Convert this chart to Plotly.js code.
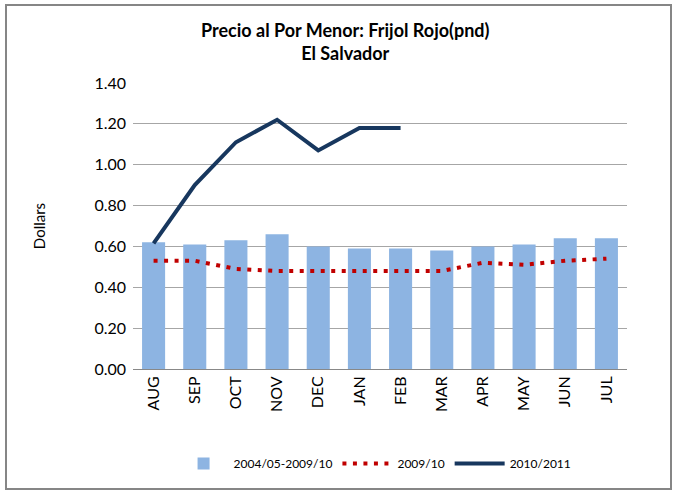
<!DOCTYPE html>
<html>
<head>
<meta charset="utf-8">
<script src="https://cdn.plot.ly/plotly-3.0.1.min.js"></script>
<style>
  body { margin: 0; background: #fff; }
  #wrap { position: relative; width: 673px; height: 490px; }
  #frame { position: absolute; left: 5px; top: 4px; width: 663px; height: 482px;
           border: 2px solid #868686; pointer-events: none; }
</style>
</head>
<body>
<div id="wrap">
  <div id="chart" style="width:673px;height:490px;"></div>
  <div id="frame"></div>
</div>
<script>
// Months of the marketing year
const months = ['AUG', 'SEP', 'OCT', 'NOV', 'DEC', 'JAN', 'FEB', 'MAR', 'APR', 'MAY', 'JUN', 'JUL'];

// Average 2004/05-2009/10
const avgPrices = [0.62, 0.61, 0.63, 0.66, 0.60, 0.59, 0.59, 0.58, 0.60, 0.61, 0.64, 0.64];

// 2009/10 season
const prices0910 = [0.53, 0.53, 0.49, 0.48, 0.48, 0.48, 0.48, 0.48, 0.52, 0.51, 0.53, 0.54];

// 2010/2011 season (through February)
const months1011 = ['AUG', 'SEP', 'OCT', 'NOV', 'DEC', 'JAN', 'FEB'];
const prices1011 = [0.615, 0.90, 1.11, 1.22, 1.07, 1.18, 1.18];

const font = 'Lato, "Liberation Sans", Arial, sans-serif';

const data = [
    {
        x: months, y: avgPrices, type: 'bar',
        name: '2004/05-2009/10',
        marker: { color: '#8DB4E2' }
    },
    {
        x: months, y: prices0910, type: 'scatter', mode: 'lines',
        name: '2009/10',
        line: { color: '#C00000', width: 4, dash: '4px,6.5px' }
    },
    {
        x: months1011, y: prices1011, type: 'scatter', mode: 'lines',
        name: '2010/2011',
        line: { color: '#17375E', width: 4 }
    }
];

const layout = {
    width: 673,
    height: 490,
    margin: { l: 133, r: 46, t: 83, b: 114 },
    paper_bgcolor: '#fff',
    plot_bgcolor: '#fff',
    font: { family: font, color: '#000' },
    title: {
        text: '<b>Precio al Por Menor: Frijol Rojo(pnd)<br>El Salvador</b>',
        x: 0.513, xanchor: 'center',
        y: 0.925, yanchor: 'middle',
        font: { size: 18, family: font, color: '#000' }
    },
    bargap: 0.44,
    showlegend: true,
    legend: {
        orientation: 'h',
        x: 0.49, xanchor: 'center',
        y: -0.33, yanchor: 'middle',
        itemwidth: 50,
        font: { size: 12, family: font },
        traceorder: 'normal'
    },
    xaxis: {
        type: 'category',
        automargin: false,
        tickangle: -90,
        tickfont: { size: 16 },
        showline: true, linecolor: '#888', linewidth: 1,
        ticks: '', ticklen: 0
    },
    yaxis: {
        automargin: false,
        range: [0, 1.4],
        dtick: 0.2,
        tickformat: '.2f',
        tickfont: { size: 16 },
        gridcolor: '#A6A6A6',
        gridwidth: 1,
        zeroline: false,
        ticklabelstandoff: 6,
        title: { text: 'Dollars', font: { size: 15 }, standoff: 45 }
    }
};

Plotly.newPlot('chart', data, layout, { displayModeBar: false });
</script>
</body>
</html>
